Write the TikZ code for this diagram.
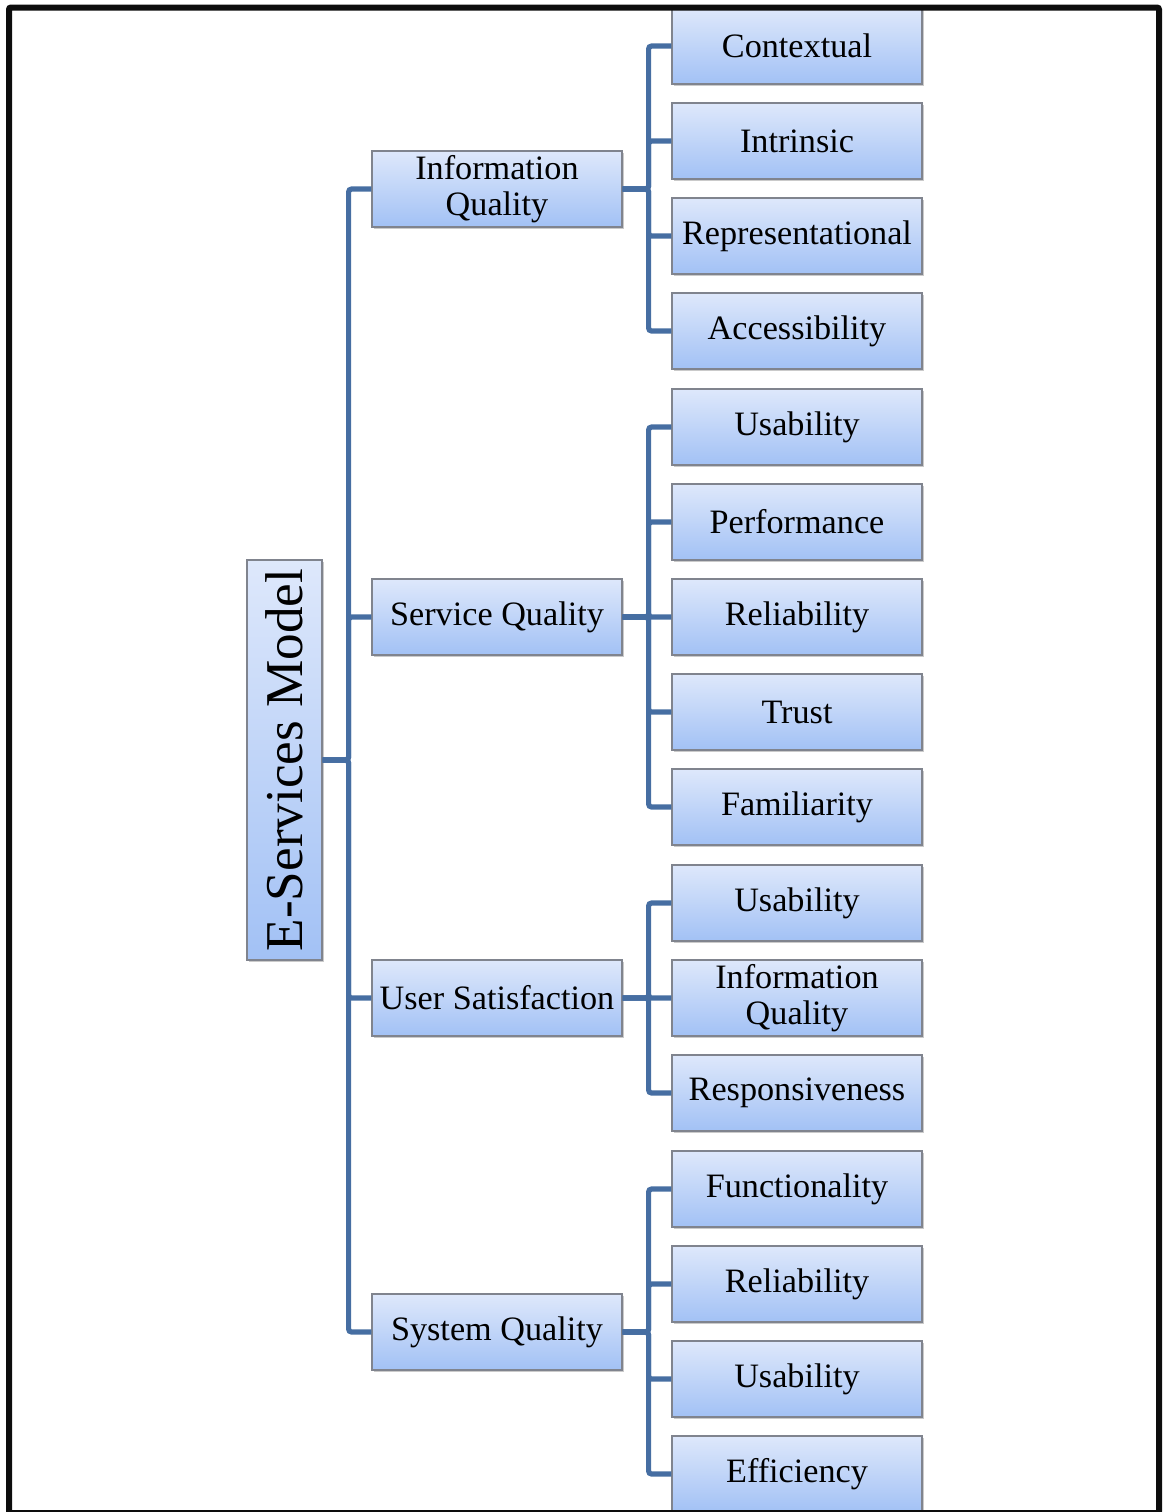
\documentclass[tikz,border=0pt]{standalone}
\usepackage{fontspec}
\setmainfont{Liberation Serif}
\usetikzlibrary{shadows}
\definecolor{boxtop}{RGB}{222,232,251}
\definecolor{boxbot}{RGB}{162,193,245}
\definecolor{boxedge}{RGB}{128,132,142}
\definecolor{conn}{RGB}{70,110,162}
\begin{document}
\begin{tikzpicture}[x=0.5pt,y=-0.5pt,
  box/.style={rectangle, draw=boxedge, line width=0.6pt, top color=boxtop, bottom color=boxbot,
    minimum width=125pt, minimum height=38pt, inner sep=1pt, align=center,
    font=\fontsize{17.1}{18}\selectfont,
    drop shadow={opacity=0.35, shadow xshift=1.2pt, shadow yshift=-1.2pt, fill=black!60}},
  rootbox/.style={box, minimum width=37.5pt, minimum height=200pt, font=\fontsize{26.6}{28}\selectfont},
  link/.style={draw=conn, line width=2.6pt, rounded corners=1.5pt}]
\useasboundingbox (0,0) rectangle (1171,1512);
% root
\node[rootbox] (root) at (284.5,760) {\rotatebox{90}{E-Services Model}};
% level 2
\node[box] (iq) at (497,189) {Information\\Quality};
\node[box] (sq) at (497,617) {Service Quality};
\node[box] (us) at (497,998) {User Satisfaction};
\node[box] (sy) at (497,1332) {System Quality};
% leaves
\node[box] (l1) at (797,46) {Contextual};
\node[box] (l2) at (797,141) {Intrinsic};
\node[box] (l3) at (797,236) {Representational};
\node[box] (l4) at (797,331) {Accessibility};
\node[box] (l5) at (797,427) {Usability};
\node[box] (l6) at (797,522) {Performance};
\node[box] (l7) at (797,617) {Reliability};
\node[box] (l8) at (797,712) {Trust};
\node[box] (l9) at (797,807) {Familiarity};
\node[box] (l10) at (797,903) {Usability};
\node[box] (l11) at (797,998) {Information\\Quality};
\node[box] (l12) at (797,1093) {Responsiveness};
\node[box] (l13) at (797,1189) {Functionality};
\node[box] (l14) at (797,1284) {Reliability};
\node[box] (l15) at (797,1379) {Usability};
\node[box] (l16) at (797,1474) {Efficiency};
% connectors
\foreach \c in {iq,sq,us,sy} \draw[link] (root.east) -- ++(26,0) |- (\c.west);
\foreach \c in {l1,l2,l3,l4} \draw[link] (iq.east) -- ++(26,0) |- (\c.west);
\foreach \c in {l5,l6,l7,l8,l9} \draw[link] (sq.east) -- ++(26,0) |- (\c.west);
\foreach \c in {l10,l11,l12} \draw[link] (us.east) -- ++(26,0) |- (\c.west);
\foreach \c in {l13,l14,l15,l16} \draw[link] (sy.east) -- ++(26,0) |- (\c.west);
% frame
\draw[line width=3pt, black!95, rounded corners=1pt] (9,7.5) rectangle (1159,1513);
\end{tikzpicture}
\end{document}
